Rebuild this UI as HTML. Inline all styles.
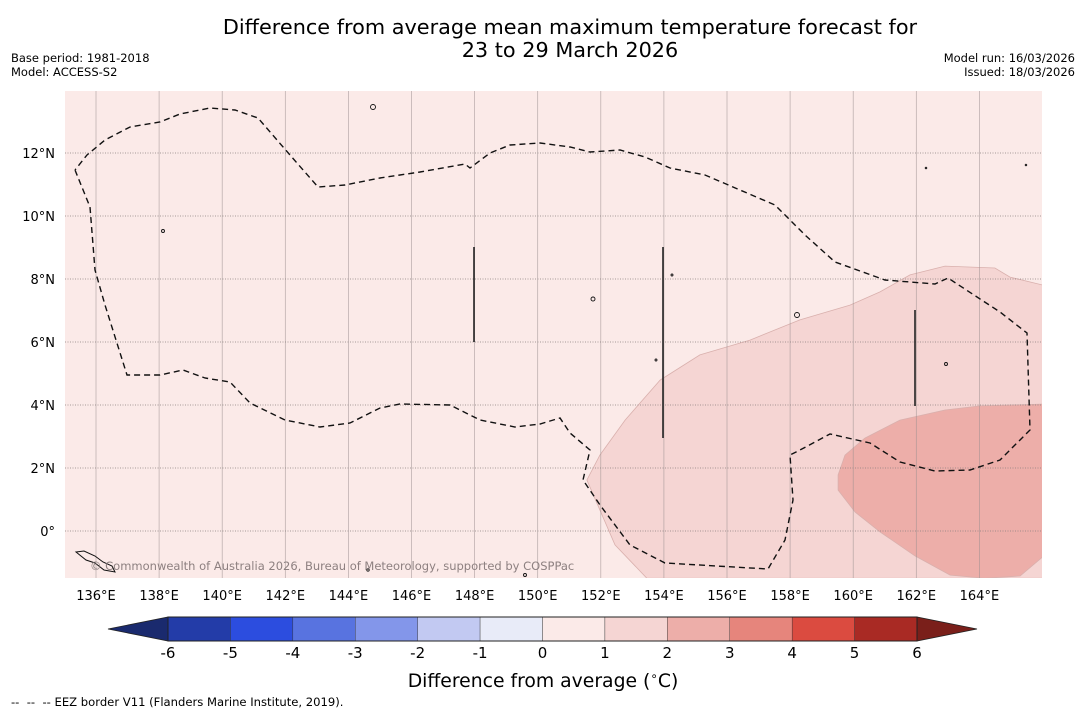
<!DOCTYPE html>
<html><head><meta charset="utf-8">
<style>
body{margin:0;background:#fff;font-family:"DejaVu Sans","Liberation Sans",sans-serif;}
#wrap{position:relative;width:1085px;height:713px;overflow:hidden;background:#fff;}
svg text{font-family:"DejaVu Sans","Liberation Sans",sans-serif;}
</style></head>
<body>
<div id="wrap">
<svg id="svg" width="1085" height="713" xmlns="http://www.w3.org/2000/svg">
<text x="570" y="34" font-size="20.8" text-anchor="middle">Difference from average mean maximum temperature forecast for</text>
<text x="570" y="57" font-size="20.8" text-anchor="middle">23 to 29 March 2026</text>
<text x="11" y="62" font-size="11.5">Base period: 1981-2018</text>
<text x="11" y="76" font-size="11.5">Model: ACCESS-S2</text>
<text x="1075" y="62" font-size="11.5" text-anchor="end">Model run: 16/03/2026</text>
<text x="1075" y="76" font-size="11.5" text-anchor="end">Issued: 18/03/2026</text>
<g id="map"></g>
<g id="cbar"></g>
<text x="543" y="687" font-size="18.8" text-anchor="middle">Difference from average (<tspan font-size="12" dy="-7">∘</tspan><tspan dy="7">C)</tspan></text>
<text x="11" y="706" font-size="11.6" xml:space="preserve">--  --  -- EEZ border V11 (Flanders Marine Institute, 2019).</text>
</svg>
</div>
<script>
const lonTicks=[136,138,140,142,144,146,148,150,152,154,156,158,160,162,164];
const latTicks=[0,2,4,6,8,10,12];
const latLabels=["0°","2°N","4°N","6°N","8°N","10°N","12°N"];
const bins=[-6,-5,-4,-3,-2,-1,0,1,2,3,4,5,6];
const binColors=["#233ca8","#2c4ddf","#5873e0","#8396ea","#c2c9f2","#e8ebf8","#fbeae8","#f5d5d3","#edaea9","#e6857c","#db4b40","#a92a24"];
const contour1=[[153.46,-1.5],[152.45,-0.44],[151.56,1.62],[151.97,2.41],[152.77,3.52],[153.88,4.79],[155.14,5.59],[156.73,6.06],[158.31,6.70],[159.9,7.17],[160.85,7.59],[161.8,8.13],[162.91,8.41],[164.49,8.35],[164.97,8.06],[166,7.81],[166,-1.5]];
const contour2=[[166,4.03],[164.02,3.97],[162.91,3.84],[161.48,3.52],[160.37,2.95],[159.74,2.41],[159.52,1.78],[159.52,1.3],[160.06,0.6],[160.85,-0.03],[161.96,-0.79],[163.07,-1.4],[164.18,-1.5],[165.29,-1.43],[166,-0.83]];
const NS="http://www.w3.org/2000/svg";
const X0=65,X1=1042,Y0=91,Y1=578;
function xs(lon){return 96+(lon-136)*31.55;}
function ys(lat){return 531-lat*31.5;}
function mk(tag,attrs,parent){const e=document.createElementNS(NS,tag);for(const k in attrs)e.setAttribute(k,attrs[k]);parent.appendChild(e);return e;}
const map=document.getElementById('map');
const cp=mk('clipPath',{id:'clip'},map);mk('rect',{x:X0,y:Y0,width:X1-X0,height:Y1-Y0},cp);
const bg=mk('rect',{x:X0,y:Y0,width:X1-X0,height:Y1-Y0,fill:binColors[6]},map);


const g=mk('g',{'clip-path':'url(#clip)'},map);
function poly(pts,fill,name){const d=pts.map((p,i)=>(i?'L':'M')+xs(p[0]).toFixed(1)+','+ys(p[1]).toFixed(1)).join('')+'Z';
const p=mk('path',{d:d,fill:fill,stroke:'#d9b0ad','stroke-width':0.8},g);

}
poly(contour1,binColors[7],'contour-1-to-2');
poly(contour2,binColors[8],'contour-2-to-3');
lonTicks.forEach(l=>{const ln=mk('line',{x1:xs(l),x2:xs(l),y1:Y0,y2:Y1,stroke:'#9a8e8e','stroke-width':0.7,'stroke-opacity':0.7},g);


const t=mk('text',{x:xs(l),y:600,'font-size':13,'text-anchor':'middle'},map);t.textContent=l+'°E';

});
latTicks.forEach((l,i)=>{const ln=mk('line',{x1:X0,x2:X1,y1:ys(l),y2:ys(l),stroke:'#8a7f7f','stroke-width':0.8,'stroke-dasharray':'1,1.5'},g);


const t=mk('text',{x:55,y:ys(l)+5,'font-size':13,'text-anchor':'end'},map);t.textContent=latLabels[i];

});
const eez=[[75,170],[90,207],[95,270],[105,305],[127,375],[160,375],[183,370],[205,378],[230,382],[250,403],[285,420],[320,427],[350,423],[380,408],[400,404],[450,405],[480,420],[515,427],[540,424],[560,418],[570,433],[590,450],[583,480],[600,505],[630,545],[665,563],[768,569],[785,540],[793,500],[790,455],[800,450],[830,434],[870,443],[900,462],[935,471],[970,470],[1000,460],[1030,430],[1027,333],[1000,312],[948,278],[935,284],[885,280],[835,262],[805,235],[775,205],[740,190],[705,175],[670,168],[645,157],[620,150],[590,152],[570,147],[540,143],[510,145],[490,153],[470,168],[465,164],[420,172],[380,178],[345,185],[318,187],[290,155],[258,118],[235,110],[210,108],[180,114],[160,122],[130,127],[105,140],[87,155],[75,170]];
const e=mk('path',{d:eez.map((p,i)=>(i?'L':'M')+p[0]+','+p[1]).join(''),fill:'none',stroke:'#111','stroke-width':1.4,'stroke-dasharray':'6,4'},g);


[[474,247,342],[663,247,438],[915,310,406]].forEach(v=>{const l=mk('line',{x1:v[0],x2:v[0],y1:v[1],y2:v[2],stroke:'#222','stroke-width':1.6},g);

});
[[373,107,2.5],[163,231,1.5],[593,299,2],[797,315,2.5],[946,364,1.5],[672,275,1],[1026,165,0.8],[926,168,0.8],[656,360,1],[368,570,1.2],[525,575,1.5]].forEach(s=>{const c=mk('circle',{cx:s[0],cy:s[1],r:s[2],fill:'none',stroke:'#111','stroke-width':0.9},g);

});
const isl=mk('path',{d:'M76,552 L84,551 L95,556 L103,562 L112,566 L115,572 L104,570 L95,563 L86,560 Z',fill:'none',stroke:'#111','stroke-width':1},g);


const cr=mk('text',{x:90,y:570,'font-size':11.5,fill:'#8d8080'},map);cr.textContent='© Commonwealth of Australia 2026, Bureau of Meteorology, supported by COSPPac';


const cb=document.getElementById('cbar');
const CX0=168,CX1=917,CY0=617,CY1=641,bw=(CX1-CX0)/12;
function cx(v){return CX0+(v+6)*bw;}
const la=mk('polygon',{points:`${CX0},${CY0} ${CX0},${CY1} 108,629`,fill:'#1a2a6e',stroke:'#222','stroke-width':0.8},cb);


const ra=mk('polygon',{points:`${CX1},${CY0} ${CX1},${CY1} 977,629`,fill:'#7a1f1a',stroke:'#222','stroke-width':0.8},cb);


binColors.forEach((c,i)=>{const r=mk('rect',{x:cx(bins[i]),y:CY0,width:cx(bins[i+1])-cx(bins[i]),height:CY1-CY0,fill:c,stroke:'#333','stroke-width':0.4},cb);

});
mk('rect',{x:CX0,y:CY0,width:CX1-CX0,height:CY1-CY0,fill:'none',stroke:'#222','stroke-width':1},cb);
bins.forEach(b=>{const t=mk('text',{x:cx(b),y:658,'font-size':15,'text-anchor':'middle'},cb);t.textContent=b;

});
</script>
</body></html>
